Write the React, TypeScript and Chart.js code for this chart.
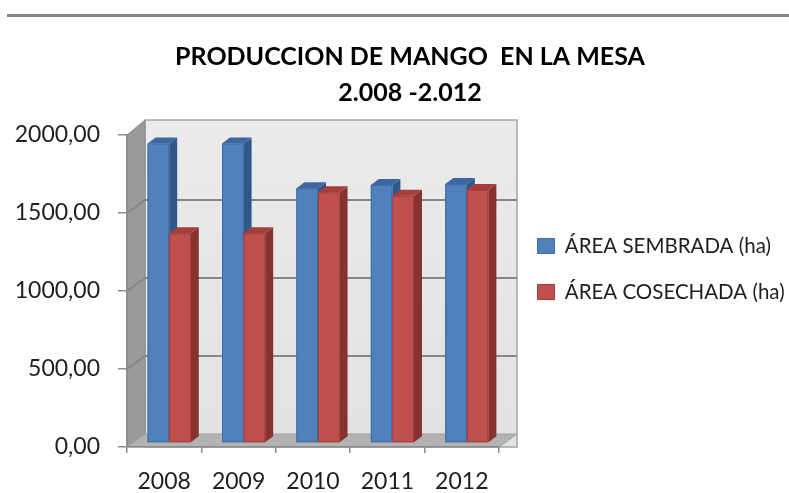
import React, { useEffect, useRef } from "react";
import { Chart, registerables } from "chart.js";

Chart.register(...registerables);

const years = ["2008", "2009", "2010", "2011", "2012"];
const areaSembrada = [1920, 1920, 1633, 1654, 1660];
const areaCosechada = [1344, 1344, 1607, 1585, 1622];
const seriesNames = ["ÁREA SEMBRADA (ha)", "ÁREA COSECHADA (ha)"];
const titleLines = ["PRODUCCION DE MANGO  EN LA MESA", "2.008 -2.012"];
const yMax = 2000;
const yStep = 500;

const FRONT = ["#4F81BD", "#C0504D"];
const EDGE = ["#3F6CA3", "#A33F3C"];
const SIDE = ["#32578A", "#86322F"];
const TOP = ["#3D67A2", "#A53F3C"];

const DEPTH = { dx: 18, dy: -13 };
const BAR_SHIFT = { dx: 5, dy: -4 };
const BAR_DEPTH = { dx: 8, dy: -6 };

const wallsPlugin = {
  id: "walls",
  afterLayout(chart: any) {
    // shift the centre of the title block to match the original layout
    if (chart.titleBlock) chart.titleBlock.left = 31;
  },
  beforeDraw(chart: any) {
    const { ctx, chartArea } = chart;
    const { left: L, right: R, top: T, bottom: B } = chartArea;
    const { dx, dy } = DEPTH;
    const yScale = chart.scales.y;
    ctx.save();
    ctx.strokeStyle = "#858585";
    ctx.lineWidth = 3;
    ctx.beginPath();
    ctx.moveTo(7, 15.5);
    ctx.lineTo(789, 15.5);
    ctx.stroke();

    const wallTop = T + dy - 2;
    const g = ctx.createLinearGradient(0, wallTop, 0, B + dy);
    g.addColorStop(0, "#EBEBEB");
    g.addColorStop(1, "#E2E2E2");
    ctx.fillStyle = g;
    ctx.fillRect(L + dx, wallTop, R - L, B - wallTop);
    ctx.strokeStyle = "#A6A6A6";
    ctx.lineWidth = 1.5;
    ctx.strokeRect(L + dx, wallTop, R - L, B - wallTop);
    ctx.fillStyle = "#9A9A9A";
    ctx.beginPath();
    ctx.moveTo(L, T);
    ctx.lineTo(L + dx, wallTop);
    ctx.lineTo(L + dx, B + dy);
    ctx.lineTo(L, B);
    ctx.closePath();
    ctx.fill();
    ctx.strokeStyle = "#8A8A8A";
    ctx.lineWidth = 1;
    ctx.stroke();
    ctx.fillStyle = "#B3B3B3";
    ctx.beginPath();
    ctx.moveTo(L, B);
    ctx.lineTo(R, B);
    ctx.lineTo(R + dx, B + dy);
    ctx.lineTo(L + dx, B + dy);
    ctx.closePath();
    ctx.fill();
    ctx.strokeStyle = "#A0A0A0";
    ctx.stroke();
    ctx.strokeStyle = "#878787";
    ctx.lineWidth = 2;
    yScale.ticks.forEach((t: any) => {
      if (t.value <= 0 || t.value >= yMax) return;
      const y = yScale.getPixelForValue(t.value);
      ctx.beginPath();
      ctx.moveTo(L, y);
      ctx.lineTo(L + dx, y + dy);
      ctx.lineTo(R + dx, y + dy);
      ctx.stroke();
    });
    ctx.restore();
  },
};

const bar3dPlugin = {
  id: "bar3d",
  beforeDatasetsDraw(chart: any) {
    chart.ctx.save();
    chart.ctx.translate(BAR_SHIFT.dx, BAR_SHIFT.dy);
  },
  afterDatasetsDraw(chart: any) {
    const ctx = chart.ctx;
    const { dx, dy } = BAR_DEPTH;
    chart.data.datasets.forEach((_ds: any, di: number) => {
      const meta = chart.getDatasetMeta(di);
      meta.data.forEach((bar: any) => {
        const { x, y, base, width } = bar.getProps(["x", "y", "base", "width"], true);
        const l = x - width / 2;
        const r = x + width / 2;
        ctx.fillStyle = SIDE[di];
        ctx.beginPath();
        ctx.moveTo(r, y);
        ctx.lineTo(r + dx, y + dy);
        ctx.lineTo(r + dx, base + dy);
        ctx.lineTo(r, base);
        ctx.closePath();
        ctx.fill();
        ctx.fillStyle = TOP[di];
        ctx.beginPath();
        ctx.moveTo(l, y);
        ctx.lineTo(l + dx, y + dy);
        ctx.lineTo(r + dx, y + dy);
        ctx.lineTo(r, y);
        ctx.closePath();
        ctx.fill();
        ctx.fillStyle = FRONT[di];
        ctx.fillRect(l, y, width, base - y);
        ctx.strokeStyle = EDGE[di];
        ctx.lineWidth = 1;
        ctx.strokeRect(l + 0.5, y + 0.5, width - 1, base - y - 1);
      });
    });
    ctx.restore();
  },
};

export default function App() {
  const ref = useRef<HTMLCanvasElement | null>(null);
  useEffect(() => {
    if (!ref.current) return;
    const font = "Lato, 'Open Sans', sans-serif";
    const chart = new Chart(ref.current, {
      type: "bar",
      data: {
        labels: years,
        datasets: [
          {
            label: seriesNames[0],
            data: areaSembrada,
            backgroundColor: FRONT[0],
            borderColor: EDGE[0],
            borderWidth: 1,
          },
          {
            label: seriesNames[1],
            data: areaCosechada,
            backgroundColor: FRONT[1],
            borderColor: EDGE[1],
            borderWidth: 1,
          },
        ],
      },
      options: {
        responsive: false,
        animation: false,
        devicePixelRatio: 1,
        layout: { padding: { left: 0, right: 0, top: 0, bottom: 0 } },
        datasets: {
          bar: { categoryPercentage: 0.58, barPercentage: 1.0 },
        },
        scales: {
          x: {
            grid: { drawOnChartArea: false, tickLength: 6, color: "#8C8C8C", lineWidth: 1.5 },
            border: { color: "#8C8C8C", width: 1.5 },
            ticks: { color: "#1E1E1E", font: { family: font, size: 23 }, padding: 15 },
            afterFit: (s: any) => {
              s.height = 46;
            },
          },
          y: {
            min: 0,
            max: yMax,
            ticks: {
              stepSize: yStep,
              color: "#1E1E1E",
              font: { family: font, size: 23 },
              padding: 18,
              callback: (v: any) => Number(v).toFixed(2).replace(".", ","),
            },
            grid: { drawOnChartArea: false, tickLength: 9, color: "#8C8C8C", lineWidth: 1.5 },
            border: { color: "#8C8C8C", width: 1.5 },
            afterFit: (s: any) => {
              s.width = 127;
            },
          },
          gap: {
            type: "linear",
            position: "right",
            display: true,
            grid: { display: false, drawTicks: false },
            border: { display: false },
            ticks: { display: false },
            afterFit: (s: any) => {
              s.width = 13;
            },
          },
        },
        plugins: {
          title: {
            display: true,
            text: titleLines,
            color: "#000000",
            font: { family: font, size: 25, weight: "bold", lineHeight: 1.44 },
            padding: { top: 39, bottom: 24 },
          },
          legend: {
            position: "right",
            align: "start",
            maxWidth: 277,
            title: { display: true, text: "", font: { size: 10 }, padding: { top: 198.25, bottom: 0 } },
            labels: {
              boxWidth: 17,
              boxHeight: 15,
              padding: 25.5,
              color: "#1E1E1E",
              font: { family: font, size: 20.5 },
            },
          },
          tooltip: { enabled: false },
        },
      },
      plugins: [wallsPlugin, bar3dPlugin],
    } as any);
    return () => chart.destroy();
  }, []);
  return (
    <div style={{ position: "absolute", left: 0, top: 0, width: 789, height: 493, background: "#fff" }}>
      <canvas ref={ref} width={789} height={493} style={{ display: "block" }} />
    </div>
  );
}
